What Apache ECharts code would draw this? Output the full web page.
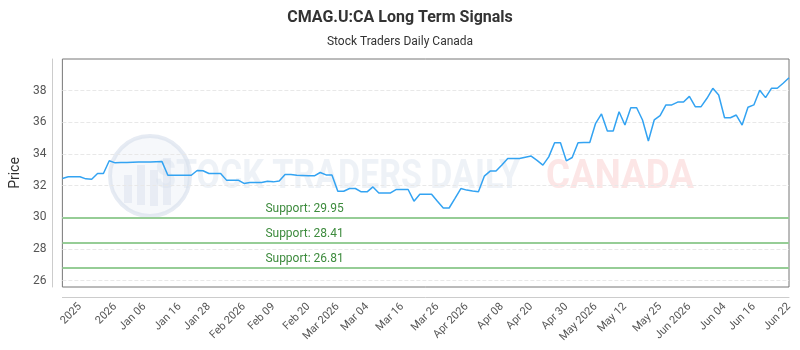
<!DOCTYPE html>
<html>
<head>
<meta charset="utf-8">
<script src="https://cdn.jsdelivr.net/npm/echarts@6/dist/echarts.min.js"></script>
<style>
html, body { margin: 0; padding: 0; background: #fff; }
#container { width: 800px; height: 350px; }
</style>
</head>
<body>
<div id="container"></div>
<script>
// price series, one value per point
var prices = [
  32.45, 32.56, 32.56, 32.56, 32.43, 32.41, 32.77, 32.77, 33.57, 33.44,
  33.46, 33.47, 33.48, 33.49, 33.50, 33.50, 33.51, 33.52, 32.66, 32.66,
  32.66, 32.66, 32.66, 32.96, 32.94, 32.77, 32.77, 32.77, 32.35, 32.35,
  32.35, 32.14, 32.20, 32.20, 32.20, 32.28, 32.24, 32.30, 32.71, 32.71,
  32.66, 32.64, 32.62, 32.62, 32.83, 32.68, 32.68, 31.65, 31.65, 31.82,
  31.82, 31.61, 31.61, 31.92, 31.54, 31.54, 31.54, 31.76, 31.76, 31.76,
  31.02, 31.46, 31.46, 31.46, 31.02, 30.59, 30.59, 31.20, 31.82, 31.72,
  31.66, 31.61, 32.60, 32.92, 32.92, 33.30, 33.72, 33.72, 33.72, 33.80,
  33.87, 33.60, 33.30, 33.82, 34.71, 34.71, 33.57, 33.78, 34.71, 34.72,
  34.73, 35.94, 36.53, 35.45, 35.45, 36.67, 35.83, 36.92, 36.92, 36.15,
  34.82, 36.15, 36.42, 37.10, 37.10, 37.28, 37.28, 37.64, 36.99, 36.99,
  37.52, 38.15, 37.73, 36.29, 36.29, 36.46, 35.83, 36.95, 37.10, 38.03,
  37.56, 38.15, 38.15, 38.47, 38.82
];
var supports = [29.95, 28.41, 26.81];

// x tick labels and the point each one sits on
var tickLabels = ['2025', '2026', 'Jan 06', 'Jan 16', 'Jan 28', 'Feb 2026', 'Feb 09', 'Feb 20',
  'Mar 2026', 'Mar 04', 'Mar 16', 'Mar 26', 'Apr 2026', 'Apr 08', 'Apr 20', 'Apr 30',
  'May 2026', 'May 12', 'May 25', 'Jun 2026', 'Jun 04', 'Jun 16', 'Jun 22'];
var tickIndex = [3, 9, 14, 20, 25, 31, 36, 42, 47, 52, 58, 64, 69, 75, 80, 86, 91, 96, 102, 107, 113, 118, 124];

var labelAt = {};
tickIndex.forEach(function (idx, k) { labelAt[idx] = tickLabels[k]; });
var categories = prices.map(function (p, i) { return labelAt[i] || ('p' + i); });

var wmFont = 'bold 40px Roboto, sans-serif';

var myChart = echarts.init(document.getElementById('container'));
var option = {
  backgroundColor: '#fff',
  textStyle: { fontFamily: 'Roboto' },
  title: {
    text: 'CMAG.U:CA Long Term Signals',
    subtext: 'Stock Traders Daily Canada',
    left: 'center',
    top: 5,
    itemGap: 10,
    textStyle: { fontSize: 16, fontWeight: 'bold', color: '#333' },
    subtextStyle: { fontSize: 12, color: '#333' }
  },
  graphic: [
    { type: 'circle', z: -10, shape: { cx: 150, cy: 176, r: 40 },
      style: { fill: 'rgba(232,237,246,0.4)', stroke: 'rgba(214,222,235,0.6)', lineWidth: 4 } },
    { type: 'rect', z: -10, shape: { x: 124, y: 175, width: 8, height: 28 }, style: { fill: 'rgba(214,222,235,0.45)' } },
    { type: 'rect', z: -10, shape: { x: 137, y: 165, width: 8, height: 40 }, style: { fill: 'rgba(214,222,235,0.45)' } },
    { type: 'rect', z: -10, shape: { x: 150, y: 170, width: 8, height: 36 }, style: { fill: 'rgba(214,222,235,0.45)' } },
    { type: 'rect', z: -10, shape: { x: 163, y: 158, width: 8, height: 47 }, style: { fill: 'rgba(214,222,235,0.45)' } },
    { type: 'text', z: -10, x: 155, y: 178, scaleX: 0.85,
      style: { text: 'STOCK TRADERS DAILY', font: wmFont,
        fill: 'rgba(218,226,238,0.45)', verticalAlign: 'middle', align: 'left' } },
    { type: 'text', z: -10, x: 546, y: 178, scaleX: 0.92,
      style: { text: 'CANADA', font: wmFont,
        fill: 'rgba(248,200,200,0.45)', verticalAlign: 'middle', align: 'left' } }
  ],
  grid: {
    left: 60, right: 11, top: 59, bottom: 63,
    show: true, borderColor: '#777', borderWidth: 1, backgroundColor: 'transparent'
  },
  xAxis: {
    type: 'category',
    data: categories,
    boundaryGap: false,
    offset: 10,
    axisLine: { lineStyle: { color: '#ccc' } },
    axisTick: { show: false },
    splitLine: { show: false },
    axisLabel: {
      rotate: 45,
      fontSize: 11,
      color: '#555',
      margin: 8,
      interval: function (i) { return labelAt[i] !== undefined; },
      formatter: function (v, i) { return labelAt[i] || ''; }
    }
  },
  yAxis: {
    type: 'value',
    min: 25.6,
    max: 40,
    splitNumber: 7,
    offset: 10,
    name: 'Price',
    nameLocation: 'middle',
    nameGap: 28,
    nameTextStyle: { fontSize: 14, color: '#333' },
    axisLine: { show: true, lineStyle: { color: '#ccc' } },
    axisTick: { show: false },
    axisLabel: { fontSize: 12, color: '#555', margin: 6, showMinLabel: false, showMaxLabel: false },
    splitLine: { showMinLine: false, showMaxLine: false, lineStyle: { color: '#e8e8e8', type: 'dashed' } }
  },
  series: [{
    name: 'Price',
    type: 'line',
    data: prices,
    showSymbol: false,
    lineStyle: { color: '#33a3f2', width: 1.5 },
    itemStyle: { color: '#33a3f2' },
    z: 3,
    markLine: {
      symbol: 'none',
      silent: true,
      lineStyle: { color: '#96cd96', width: 2, type: 'solid' },
      label: {
        position: 'insideStartTop',
        distance: [203, 3],
        color: '#3d8b3d',
        fontSize: 12,
        formatter: 'Support: {c}'
      },
      data: supports.map(function (v) { return { yAxis: v }; })
    }
  }]
};
myChart.setOption(option);
</script>
</body>
</html>
